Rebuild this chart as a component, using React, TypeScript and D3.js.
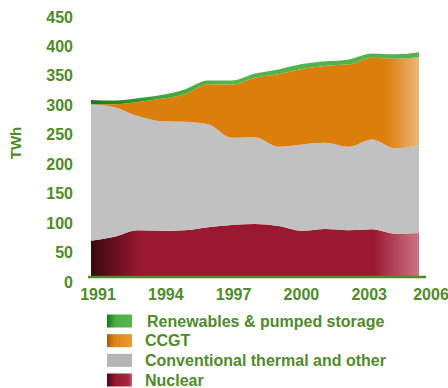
import React, { useEffect } from "react";
import * as d3 from "d3";

const years = [1991, 1992, 1993, 1994, 1995, 1996, 1997, 1998, 1999, 2000, 2001, 2002, 2003, 2004, 2005];
const nuclear = [70, 77, 88, 87, 88, 93, 97, 98.5, 95, 87, 90, 88, 89.5, 82, 83];
const conventional = [231.7, 219.6, 193.8, 186, 184, 175, 148, 147.1, 134.7, 146.7, 146.5, 141.7, 152.5, 145, 149.6];
const ccgt = [0.3, 5.4, 23.8, 38, 47, 68, 90, 101.4, 122.9, 127.9, 130.5, 139.9, 139, 152, 148.9];
const renewables = [7, 6, 6.4, 6.5, 8, 6, 7, 7, 8.4, 8.4, 7.7, 8.4, 7, 7.6, 8.5];
const yTicks = [0, 50, 100, 150, 200, 250, 300, 350, 400, 450];
const xTicks = [1991, 1994, 1997, 2000, 2003, 2006];
const legendLabels = ["Renewables & pumped storage", "CCGT", "Conventional thermal and other", "Nuclear"];

const W = 448;
const H = 388;
const GREEN = "#4e8c28";
const FONT = "'Liberation Sans', Arial, sans-serif";

export default function App() {
  useEffect(() => {
    document.body.style.margin = "0";
  }, []);

  const x = d3.scaleLinear().domain([1991, 2005]).range([91, 419]);
  const xLab = d3.scaleLinear().domain([1991, 2006]).range([98, 437]);
  const y = d3.scaleLinear().domain([0, 450]).range([282, 17]);
  const axisY = 277;

  const rows = years.map((yr, i) => ({
    year: yr,
    nuclear: nuclear[i],
    conventional: conventional[i],
    ccgt: ccgt[i],
    renewables: renewables[i],
  }));
  const keys = ["nuclear", "conventional", "ccgt", "renewables"];
  const stack = d3.stack<any>().keys(keys)(rows);

  const area = d3
    .area<any>()
    .x((d) => x(d.data.year))
    .y0((d) => (d[0] === 0 ? axisY : y(d[0])))
    .y1((d) => y(d[1]))
    .curve(d3.curveMonotoneX);

  const fills = ["url(#gNuc)", "#c1c1c1", "url(#gCcgt)", "url(#gRen)"];
  const x0 = x(1991);
  const x1 = x(2005);

  const legendFills = ["url(#lRen)", "url(#lCcgt)", "#b5b5b5", "url(#lNuc)"];
  const legendY = d3.scalePoint<string>().domain(legendLabels).range([321, 380]);

  return (
    <svg width={W} height={H} style={{ display: "block", position: "absolute", left: 0, top: 0 }} fontFamily={FONT}>
      <defs>
        <linearGradient id="gNuc" gradientUnits="userSpaceOnUse" x1={x0} x2={x1} y1={0} y2={0}>
          <stop offset="0" stopColor="#3a0810" />
          <stop offset="0.15" stopColor="#9a1830" />
          <stop offset="0.86" stopColor="#9a1830" />
          <stop offset="1" stopColor="#cc7585" />
        </linearGradient>
        <linearGradient id="gCcgt" gradientUnits="userSpaceOnUse" x1={x0} x2={x1} y1={0} y2={0}>
          <stop offset="0" stopColor="#db7e0b" />
          <stop offset="0.9" stopColor="#db7e0b" />
          <stop offset="1" stopColor="#e9b877" />
        </linearGradient>
        <linearGradient id="gRen" gradientUnits="userSpaceOnUse" x1={x0} x2={x1} y1={0} y2={0}>
          <stop offset="0" stopColor="#17771a" />
          <stop offset="0.2" stopColor="#3fa43a" />
          <stop offset="0.4" stopColor="#55b34b" />
          <stop offset="1" stopColor="#55b34b" />
        </linearGradient>
        <linearGradient id="lRen" x1="0" x2="1" y1="0" y2="0">
          <stop offset="0" stopColor="#177a1a" />
          <stop offset="0.35" stopColor="#4caf45" />
          <stop offset="1" stopColor="#5ab452" />
        </linearGradient>
        <linearGradient id="lCcgt" x1="0" x2="1" y1="0" y2="0">
          <stop offset="0" stopColor="#a05a08" />
          <stop offset="0.3" stopColor="#e0860f" />
          <stop offset="1" stopColor="#e89a3a" />
        </linearGradient>
        <linearGradient id="lNuc" x1="0" x2="1" y1="0" y2="0">
          <stop offset="0" stopColor="#4a0a14" />
          <stop offset="0.35" stopColor="#9a1830" />
          <stop offset="0.85" stopColor="#a02a40" />
          <stop offset="1" stopColor="#c06070" />
        </linearGradient>
      </defs>

      {stack.map((s, i) => (
        <path key={keys[i]} d={area(s as any) || ""} fill={fills[i]} />
      ))}

      <line x1={88} x2={426} y1={axisY} y2={axisY} stroke={GREEN} strokeWidth={2.5} />

      {yTicks.map((t) => (
        <text key={t} x={73} y={y(t)} dy="0.35em" textAnchor="end" fontSize={16} fontWeight="bold" fill={GREEN}>
          {t}
        </text>
      ))}

      {xTicks.map((t) => (
        <text key={t} x={Math.min(xLab(t), W - 17)} y={299.5} textAnchor="middle" fontSize={16} fontWeight="bold" fill={GREEN}>
          {t}
        </text>
      ))}

      <text
        transform={`translate(21,143) rotate(-90)`}
        textAnchor="middle"
        fontSize={15}
        fontWeight="bold"
        fill={GREEN}
      >
        TWh
      </text>

      {legendLabels.map((l, i) => (
        <g key={l}>
          <rect x={107} y={(legendY(l) as number) - 6.5} width={25} height={13} fill={legendFills[i]} />
          <text x={i === 0 ? 147 : 145} y={(legendY(l) as number) + 5.8} fontSize={16} fontWeight="bold" fill={GREEN}>
            {l}
          </text>
        </g>
      ))}
    </svg>
  );
}
